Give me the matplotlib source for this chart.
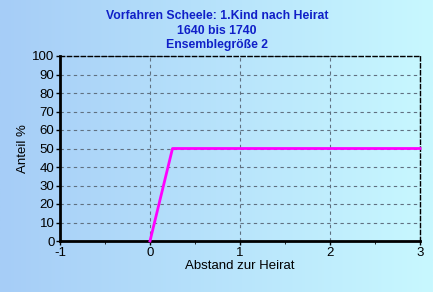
import numpy as np
import matplotlib.pyplot as plt

# data
abstand = [0, 0.25, 3]
anteil = [0, 50, 50]
title_lines = ["Vorfahren Scheele: 1.Kind nach Heirat", "1640 bis 1740", "Ensemblegröße 2"]

plt.rcParams['font.family'] = ['Liberation Sans', 'DejaVu Sans']
plt.rcParams['axes.unicode_minus'] = False

fig = plt.figure(figsize=(4.33, 2.92), dpi=100)

# gradient background
bg = fig.add_axes([0, 0, 1, 1], zorder=-10)
grad = np.linspace(0, 1, 256).reshape(1, -1)
c1 = np.array([166, 205, 247]) / 255
c2 = np.array([200, 248, 255]) / 255
img = c1[None, None, :] * (1 - grad[..., None]) + c2[None, None, :] * grad[..., None]
bg.imshow(img, aspect='auto', extent=[0, 1, 0, 1])
bg.set_xlim(0, 1)
bg.set_ylim(0, 1)
bg.axis('off')
fig.patch.set_edgecolor('#808080')
fig.patch.set_linewidth(2)

ax = fig.add_axes([60 / 433, 1 - 241 / 292, 360 / 433, 185 / 292])
ax.patch.set_alpha(0)
ax.plot(abstand, anteil, color='#ff00ff', lw=2, clip_on=False, zorder=3)

ax.set_xlim(-1, 3)
ax.set_ylim(0, 100)
ax.set_xticks([-1, 0, 1, 2, 3])
ax.set_xticks(np.arange(-1, 3.01, 0.5), minor=True)
ax.set_yticks(range(0, 101, 10))
ax.grid(True, color='#607080', linestyle=(0, (3, 3)), lw=0.8)
ax.tick_params(labelsize=9.5, length=3, width=1, direction='out', pad=1)
ax.tick_params(which='minor', length=2)

for s in ['left', 'bottom']:
    ax.spines[s].set_linewidth(2)
for s in ['top', 'right']:
    ax.spines[s].set_linestyle((0, (3, 2)))
    ax.spines[s].set_linewidth(1)

ax.set_xlabel("Abstand zur Heirat", fontsize=9.5, labelpad=1)
ax.set_ylabel("Anteil %", fontsize=9.5, labelpad=2)

for i, t in enumerate(title_lines):
    fig.text(217 / 433, 1 - (16 + 14.5 * i) / 292, t, ha='center', va='center',
             fontsize=8.8, fontweight='bold', color='#1020c8')

fig.savefig('out.png', dpi=100)
